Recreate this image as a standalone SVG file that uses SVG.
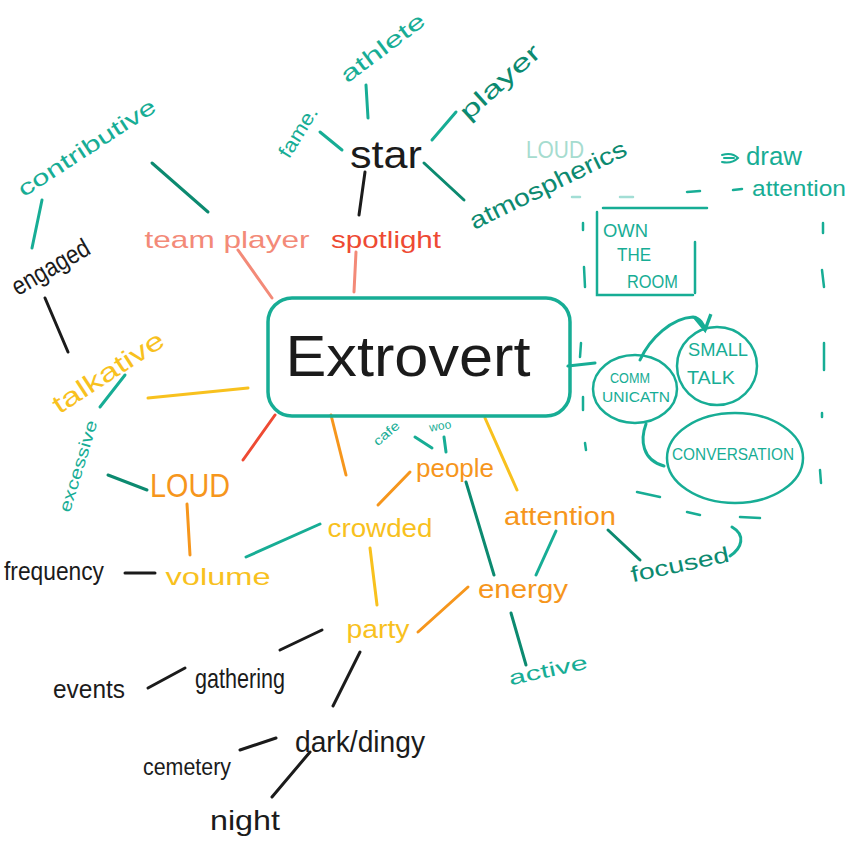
<svg xmlns="http://www.w3.org/2000/svg" width="850" height="853" viewBox="0 0 850 853">
<defs>
<style>
text{font-family:"Liberation Sans","DejaVu Sans",sans-serif;}
.blk{fill:#1b1b1b;}
.tl{fill:#17ad95;}
.dtl{fill:#0c8a70;}
.ltl{fill:#a6dccf;}
.sal{fill:#f38a78;}
.red{fill:#ee4a33;}
.org{fill:#f6961c;}
.yel{fill:#f8c11e;}
.c{fill:none;stroke-width:3;stroke-linecap:round;stroke-linejoin:round;}
.cb{stroke:#1b1b1b;}
.ct{stroke:#17ad95;}
.cdt{stroke:#0c8a70;}
.cs{stroke:#f38a78;}
.cr{stroke:#ee4a33;}
.co{stroke:#f6961c;}
.cy{stroke:#f8c11e;}
</style>
<marker id="ah" viewBox="0 0 10 10" refX="8" refY="5" markerWidth="7" markerHeight="7" orient="auto">
<path d="M1,1 L8,5 L1,9" fill="none" stroke="#17ad95" stroke-width="1.6"/>
</marker>
</defs>
<rect width="850" height="853" fill="#ffffff"/>

<g id="connectors">
<line class="c ct" x1="366" y1="85" x2="368" y2="118"/>
<line class="c ct" x1="320" y1="132" x2="342" y2="150"/>
<line class="c ct" x1="432" y1="140" x2="456" y2="112"/>
<line class="c cdt" x1="424" y1="163" x2="464" y2="200"/>
<line class="c cb" x1="365" y1="172" x2="359" y2="215"/>
<line class="c cdt" x1="152" y1="163" x2="208" y2="212"/>
<line class="c ct" x1="42" y1="200" x2="32" y2="248"/>
<line class="c cb" x1="45" y1="298" x2="68" y2="352"/>
<line class="c cs" x1="238" y1="250" x2="272" y2="298"/>
<line class="c cs" x1="356" y1="252" x2="354" y2="292"/>
<line class="c cy" x1="148" y1="398" x2="248" y2="388"/>
<line class="c ct" x1="100" y1="407" x2="125" y2="375"/>
<line class="c cdt" x1="108" y1="475" x2="147" y2="490"/>
<line class="c cr" x1="275" y1="415" x2="243" y2="460"/>
<line class="c co" x1="331" y1="415" x2="346" y2="475"/>
<line class="c co" x1="187" y1="504" x2="190" y2="555"/>
<line class="c cb" x1="125" y1="573" x2="155" y2="573"/>
<line class="c ct" x1="246" y1="557" x2="320" y2="524"/>
<line class="c co" x1="378" y1="505" x2="410" y2="472"/>
<line class="c cy" x1="485" y1="418" x2="517" y2="490"/>
<line class="c cdt" x1="466" y1="482" x2="494" y2="575"/>
<line class="c ct" x1="556" y1="531" x2="536" y2="575"/>
<line class="c cdt" x1="608" y1="530" x2="640" y2="560"/>
<path class="c ct" d="M730,556 C742,548 746,535 732,527"/>
<line class="c cy" x1="370" y1="548" x2="377" y2="605"/>
<line class="c co" x1="418" y1="632" x2="468" y2="587"/>
<line class="c cdt" x1="511" y1="613" x2="526" y2="665"/>
<line class="c cb" x1="280" y1="650" x2="322" y2="630"/>
<line class="c cb" x1="148" y1="688" x2="185" y2="668"/>
<line class="c cb" x1="360" y1="652" x2="333" y2="706"/>
<line class="c cb" x1="240" y1="750" x2="276" y2="738"/>
<line class="c cb" x1="310" y1="752" x2="272" y2="797"/>
<line class="c ct" x1="415" y1="437" x2="432" y2="448"/>
<line class="c ct" x1="444" y1="437" x2="446" y2="452"/>
<line class="c ct" x1="568" y1="366" x2="595" y2="363"/>
<path class="c ct" d="M646,424 C640,440 642,460 664,466"/>
<path class="c ct" d="M640,360 C650,338 672,318 693,317 C700,318 704,324 705,330" marker-end="url(#ah)"/>
</g>

<g id="dashed-frame" fill="none" stroke="#17ad95" stroke-width="2.5" stroke-linecap="round">
<line x1="572" y1="197" x2="580" y2="197" stroke-opacity="0.4"/>
<line x1="620" y1="197" x2="633" y2="197" stroke-opacity="0.4"/>
<line x1="687" y1="192" x2="700" y2="191"/>
<line x1="733" y1="190" x2="742" y2="189"/>
<line x1="583" y1="223" x2="583" y2="230"/>
<line x1="584" y1="267" x2="585" y2="287"/>
<line x1="581" y1="343" x2="580" y2="357"/>
<line x1="583" y1="397" x2="583" y2="410"/>
<line x1="585" y1="443" x2="586" y2="450"/>
<line x1="823" y1="223" x2="823" y2="233"/>
<line x1="822" y1="270" x2="824" y2="287"/>
<line x1="824" y1="343" x2="824" y2="370"/>
<line x1="822" y1="413" x2="822" y2="417"/>
<line x1="820" y1="470" x2="821" y2="483"/>
<line x1="637" y1="492" x2="660" y2="497"/>
<line x1="687" y1="512" x2="700" y2="515"/>
<line x1="740" y1="517" x2="760" y2="518"/>
</g>

<g id="n-contributive"><text class="tl" x="87" y="155" font-size="22" text-anchor="middle" textLength="160" lengthAdjust="spacingAndGlyphs" transform="rotate(-33 87 148)">contributive</text></g>
<g id="n-athlete"><text class="tl" x="383" y="55" font-size="22" text-anchor="middle" textLength="100" lengthAdjust="spacingAndGlyphs" transform="rotate(-37 383 48)">athlete</text></g>
<g id="n-fame"><text class="tl" x="298" y="139" font-size="20" text-anchor="middle" textLength="56" lengthAdjust="spacingAndGlyphs" transform="rotate(-58 298 132)">fame.</text></g>
<g id="n-star"><text class="blk" x="386" y="168" font-size="38" text-anchor="middle" textLength="72" lengthAdjust="spacingAndGlyphs">star</text></g>
<g id="n-player"><text class="dtl" x="500" y="90" font-size="24" text-anchor="middle" textLength="100" lengthAdjust="spacingAndGlyphs" transform="rotate(-42 500 82)">player</text></g>
<g id="n-loud-top"><text class="ltl" x="555" y="158" font-size="24" text-anchor="middle" textLength="58" lengthAdjust="spacingAndGlyphs">LOUD</text></g>
<g id="n-atmospherics"><text class="dtl" x="548" y="193" font-size="24" text-anchor="middle" textLength="172" lengthAdjust="spacingAndGlyphs" transform="rotate(-26 548 185)">atmospherics</text></g>
<g id="n-team-player"><text class="sal" x="227" y="248" font-size="24" text-anchor="middle" textLength="165" lengthAdjust="spacingAndGlyphs">team player</text></g>
<g id="n-spotlight"><text class="red" x="386" y="248" font-size="24" text-anchor="middle" textLength="110" lengthAdjust="spacingAndGlyphs">spotlight</text></g>

<g id="n-draw-attention">
<path d="M722,155 Q732,152 738,158 Q732,164 722,162 M724,158 L734,158" fill="none" stroke="#17ad95" stroke-width="2" stroke-linecap="round"/>
<text class="tl" x="746" y="165" font-size="26" textLength="56" lengthAdjust="spacingAndGlyphs">draw</text>
<text class="tl" x="752" y="196" font-size="22" textLength="94" lengthAdjust="spacingAndGlyphs">attention</text>
</g>

<g id="n-own-the-room">
<path d="M603,208 L707,208 M597,212 L597,295 L693,295 M695,242 L695,293" fill="none" stroke="#17ad95" stroke-width="2.5" stroke-linecap="round"/>
<text class="tl" x="603" y="237" font-size="19" textLength="45" lengthAdjust="spacingAndGlyphs">OWN</text>
<text class="tl" x="617" y="261" font-size="19" textLength="34" lengthAdjust="spacingAndGlyphs">THE</text>
<text class="tl" x="627" y="288" font-size="19" textLength="51" lengthAdjust="spacingAndGlyphs">ROOM</text>
</g>

<g id="n-engaged"><text class="blk" x="50" y="276" font-size="26" text-anchor="middle" textLength="86" lengthAdjust="spacingAndGlyphs" transform="rotate(-30 50 266)">engaged</text></g>

<g id="n-extrovert">
<rect x="268" y="298" width="302" height="118" rx="24" fill="none" stroke="#17ad95" stroke-width="3.5"/>
<text class="blk" x="408" y="376" font-size="58" text-anchor="middle" textLength="245" lengthAdjust="spacingAndGlyphs">Extrovert</text>
</g>

<g id="n-talkative"><text class="yel" x="108" y="381" font-size="26" text-anchor="middle" textLength="128" lengthAdjust="spacingAndGlyphs" transform="rotate(-33 108 372)">talkative</text></g>
<g id="n-excessive"><text class="tl" x="78" y="472" font-size="17" text-anchor="middle" textLength="95" lengthAdjust="spacingAndGlyphs" transform="rotate(-73 78 466)">excessive</text></g>
<g id="n-loud"><text class="org" x="190" y="497" font-size="34" text-anchor="middle" textLength="80" lengthAdjust="spacingAndGlyphs">LOUD</text></g>
<g id="n-volume"><text class="yel" x="218" y="585" font-size="24" text-anchor="middle" textLength="105" lengthAdjust="spacingAndGlyphs">volume</text></g>
<g id="n-frequency"><text class="blk" x="4" y="580" font-size="25" textLength="100" lengthAdjust="spacingAndGlyphs">frequency</text></g>
<g id="n-crowded"><text class="yel" x="380" y="537" font-size="26" text-anchor="middle" textLength="105" lengthAdjust="spacingAndGlyphs">crowded</text></g>
<g id="n-people"><text class="org" x="455" y="477" font-size="26" text-anchor="middle" textLength="78" lengthAdjust="spacingAndGlyphs">people</text></g>
<g id="n-cafe"><text class="tl" x="386" y="438" font-size="13" text-anchor="middle" textLength="30" lengthAdjust="spacingAndGlyphs" transform="rotate(-40 386 433)">cafe</text></g>
<g id="n-woo"><text class="tl" x="440" y="430" font-size="12" text-anchor="middle" textLength="22" lengthAdjust="spacingAndGlyphs" transform="rotate(-10 440 425)">woo</text></g>
<g id="n-attention"><text class="org" x="560" y="525" font-size="26" text-anchor="middle" textLength="112" lengthAdjust="spacingAndGlyphs">attention</text></g>
<g id="n-focused"><text class="dtl" x="680" y="572" font-size="22" text-anchor="middle" textLength="100" lengthAdjust="spacingAndGlyphs" transform="rotate(-12 680 565)">focused</text></g>
<g id="n-energy"><text class="org" x="523" y="598" font-size="26" text-anchor="middle" textLength="90" lengthAdjust="spacingAndGlyphs">energy</text></g>
<g id="n-party"><text class="yel" x="378" y="638" font-size="26" text-anchor="middle" textLength="63" lengthAdjust="spacingAndGlyphs">party</text></g>
<g id="n-active"><text class="tl" x="548" y="677" font-size="20" text-anchor="middle" textLength="80" lengthAdjust="spacingAndGlyphs" transform="rotate(-12 548 670)">active</text></g>
<g id="n-gathering"><text class="blk" x="240" y="688" font-size="28" text-anchor="middle" textLength="90" lengthAdjust="spacingAndGlyphs">gathering</text></g>
<g id="n-events"><text class="blk" x="89" y="698" font-size="26" text-anchor="middle" textLength="72" lengthAdjust="spacingAndGlyphs">events</text></g>
<g id="n-dark-dingy"><text class="blk" x="360" y="752" font-size="30" text-anchor="middle" textLength="130" lengthAdjust="spacingAndGlyphs">dark/dingy</text></g>
<g id="n-cemetery"><text class="blk" x="187" y="775" font-size="24" text-anchor="middle" textLength="88" lengthAdjust="spacingAndGlyphs">cemetery</text></g>
<g id="n-night"><text class="blk" x="245" y="830" font-size="28" text-anchor="middle" textLength="70" lengthAdjust="spacingAndGlyphs">night</text></g>

<g id="n-communication">
<ellipse cx="635" cy="389" rx="42" ry="34" fill="none" stroke="#17ad95" stroke-width="2.5"/>
<text class="tl" x="630" y="383" font-size="14" text-anchor="middle" textLength="40" lengthAdjust="spacingAndGlyphs">COMM</text>
<text class="tl" x="636" y="402" font-size="14" text-anchor="middle" textLength="68" lengthAdjust="spacingAndGlyphs">UNICATN</text>
</g>
<g id="n-small-talk">
<ellipse cx="717" cy="366" rx="40" ry="39" fill="none" stroke="#17ad95" stroke-width="2.5"/>
<text class="tl" x="718" y="356" font-size="18" text-anchor="middle" textLength="60" lengthAdjust="spacingAndGlyphs">SMALL</text>
<text class="tl" x="711" y="384" font-size="18" text-anchor="middle" textLength="48" lengthAdjust="spacingAndGlyphs">TALK</text>
</g>
<g id="n-conversation">
<ellipse cx="735" cy="458" rx="68" ry="45" fill="none" stroke="#17ad95" stroke-width="2.5"/>
<text class="tl" x="733" y="460" font-size="17" text-anchor="middle" textLength="122" lengthAdjust="spacingAndGlyphs">CONVERSATION</text>
</g>
</svg>
